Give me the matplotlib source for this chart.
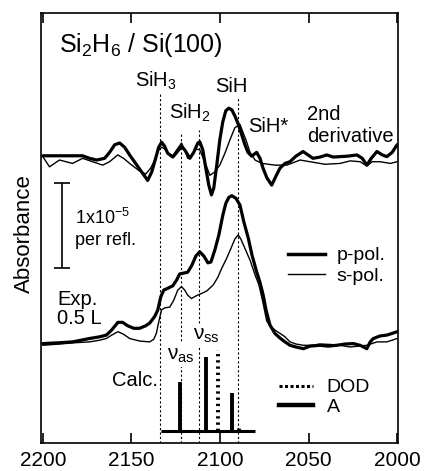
import numpy as np
import matplotlib
matplotlib.use("Agg")
import matplotlib.pyplot as plt
from matplotlib.lines import Line2D

plt.rcParams['font.family'] = ['Liberation Sans', 'DejaVu Sans']
plt.rcParams['mathtext.fontset'] = 'custom'
plt.rcParams['mathtext.rm'] = 'Liberation Sans'
plt.rcParams['mathtext.default'] = 'regular'

# 2nd derivative spectra (offset, units of 1e-5)
d2p_wn = [2200, 2190.6, 2177.5, 2173.6, 2169.6, 2165.1, 2162.3, 2159.4, 2156.6, 2153.8,
          2151.0, 2147.6, 2144.2, 2140.8, 2138.5, 2136.3, 2134.6, 2132.9, 2131.2, 2129.5,
          2126.6, 2124.4, 2121.7, 2119.9, 2117.0, 2114.8, 2112.5, 2111.4, 2109.7, 2108.0,
          2106.3, 2104.8, 2103.5, 2101.8, 2100.1, 2098.4, 2096.7, 2095.0, 2093.3, 2091.6,
          2089.9, 2087.6, 2085.9, 2084.2, 2082.1, 2079.3, 2077.4, 2075.7, 2073.5, 2070.8,
          2068.4, 2066.1, 2063.3, 2060.5, 2057.1, 2053.1, 2050.3, 2047.5, 2043.5, 2039.7,
          2036.1, 2032.2, 2027.7, 2022.7, 2019.7, 2017.1, 2014.6, 2011.4, 2008.4, 2005.8,
          2002.8, 2000]
d2p_y = [3.38, 3.38, 3.38, 3.35, 3.33, 3.35, 3.42, 3.51, 3.53, 3.48,
         3.39, 3.29, 3.19, 3.09, 3.19, 3.35, 3.48, 3.54, 3.49, 3.41,
         3.365, 3.42, 3.49, 3.45, 3.35, 3.42, 3.53, 3.545, 3.45, 3.235,
         3.035, 2.92, 3.0, 3.27, 3.565, 3.78, 3.91, 3.94, 3.92, 3.85,
         3.765, 3.62, 3.51, 3.42, 3.376, 3.42, 3.35, 3.235, 3.12, 3.035,
         3.14, 3.235, 3.29, 3.31, 3.376, 3.43, 3.39, 3.35, 3.365, 3.39,
         3.365, 3.37, 3.376, 3.39, 3.35, 3.27, 3.35, 3.43, 3.39, 3.37,
         3.42, 3.51]
d2s_wn = [2200, 2196.2, 2190.6, 2183.2, 2177.5, 2171.9, 2166.2, 2162.3, 2157.7, 2154.4,
          2149.8, 2145.3, 2141.9, 2139.1, 2136.3, 2134.6, 2132.9, 2131.2, 2129.5, 2126.6,
          2124.4, 2121.7, 2119.9, 2118.2, 2115.9, 2113.6, 2111.4, 2108.6, 2105.7, 2102.9,
          2100.1, 2097.2, 2094.4, 2091.6, 2088.7, 2087.1, 2085.3, 2083.0, 2080.2, 2076.3,
          2068.9, 2062.2, 2054.8, 2049.2, 2040.7, 2032.2, 2026.5, 2020.9, 2017.1, 2014.1,
          2009.6, 2003.9, 2000]
d2s_y = [3.37, 3.25, 3.33, 3.29, 3.35, 3.31, 3.27, 3.31, 3.39, 3.35,
         3.27, 3.20, 3.165, 3.235, 3.35, 3.45, 3.48, 3.46, 3.41, 3.38,
         3.45, 3.53, 3.45, 3.35, 3.39, 3.46, 3.45, 3.31, 3.15, 3.19,
         3.27, 3.41, 3.565, 3.71, 3.75, 3.66, 3.565, 3.42, 3.33, 3.29,
         3.27, 3.27, 3.33, 3.31, 3.28, 3.29, 3.32, 3.31, 3.26, 3.31,
         3.31, 3.29, 3.31]

# absorbance spectra, 0.5 L exposure
absp_wn = [2200, 2190.6, 2183.2, 2173.6, 2167.9, 2164.1, 2161.1, 2157.6, 2154.9, 2152.1,
           2148.7, 2145.3, 2141.9, 2139.7, 2136.8, 2135.1, 2133.4, 2131.7, 2129.5, 2126.6,
           2124.4, 2122.7, 2120.4, 2118.2, 2115.9, 2113.6, 2111.4, 2109.1, 2106.8, 2105.1,
           2102.9, 2100.6, 2098.4, 2096.7, 2095.0, 2093.3, 2091.0, 2088.7, 2086.5, 2084.0,
           2081.9, 2079.3, 2077.4, 2075.6, 2074.0, 2071.8, 2069.0, 2066.1, 2063.3, 2060.5,
           2057.1, 2052.9, 2049.2, 2043.5, 2039.0, 2034.1, 2029.4, 2024.7, 2020.9, 2017.1,
           2015.2, 2013.4, 2009.6, 2005.8, 2002.8, 2000]
absp_y = [1.17, 1.18, 1.19, 1.23, 1.25, 1.27, 1.33, 1.42, 1.42, 1.38,
          1.35, 1.35, 1.38, 1.41, 1.49, 1.565, 1.72, 1.80, 1.82, 1.85,
          1.92, 1.99, 2.00, 2.01, 2.09, 2.20, 2.25, 2.20, 2.12, 2.13,
          2.27, 2.45, 2.68, 2.82, 2.89, 2.91, 2.88, 2.80, 2.60, 2.41,
          2.21, 2.015, 1.89, 1.74, 1.565, 1.39, 1.29, 1.235, 1.19, 1.15,
          1.13, 1.11, 1.14, 1.15, 1.14, 1.15, 1.165, 1.17, 1.15, 1.11,
          1.19, 1.23, 1.26, 1.27, 1.29, 1.31]
abss_wn = [2200, 2190.6, 2182.1, 2173.6, 2167.9, 2164.1, 2161.1, 2157.6, 2154.4, 2151.0,
           2145.3, 2139.7, 2137.4, 2135.9, 2134.6, 2133.0, 2131.2, 2128.3, 2126.1, 2123.8,
           2121.7, 2119.9, 2118.2, 2116.1, 2113.6, 2110.4, 2107.4, 2103.8, 2101.2, 2098.9,
           2096.3, 2093.8, 2091.6, 2089.7, 2088.2, 2085.9, 2083.0, 2080.2, 2078.0, 2075.7,
           2073.6, 2071.8, 2069.0, 2066.1, 2063.3, 2060.5, 2057.1, 2052.9, 2048.0, 2043.5,
           2037.8, 2032.2, 2026.5, 2022.0, 2017.1, 2011.4, 2005.8, 2002.8, 2000]
abss_y = [1.15, 1.165, 1.18, 1.19, 1.21, 1.23, 1.27, 1.31, 1.28, 1.23,
          1.20, 1.19, 1.22, 1.29, 1.42, 1.565, 1.59, 1.60, 1.68, 1.80,
          1.84, 1.80, 1.74, 1.70, 1.73, 1.76, 1.79, 1.86, 1.95, 2.06,
          2.17, 2.29, 2.40, 2.45, 2.40, 2.29, 2.15, 1.98, 1.86, 1.65,
          1.435, 1.38, 1.33, 1.29, 1.25, 1.19, 1.165, 1.15, 1.15, 1.165,
          1.16, 1.15, 1.13, 1.14, 1.15, 1.19, 1.19, 1.21, 1.23]

# calculated modes
calc_base = 0.14
calc_range = [2133, 2080]
calc_a_wn = [2122.7, 2108.1, 2093.4]
calc_a_int = [0.58, 0.87, 0.445]
calc_dod_wn = [2101.0, 2089.3]
calc_dod_int = [0.95, 0.04]

# assignment lines
mode_wn = [2134, 2122, 2112, 2090]
mode_top = [4.12, 3.66, 3.68, 4.07]

fig = plt.figure(figsize=(4.25, 4.71), dpi=100)
ax = fig.add_axes([0.0965, 0.0594, 0.84, 0.913])

ax.vlines(mode_wn, 0, mode_top, colors='k', linewidth=0.8,
          linestyles=[(0, (2, 2))], zorder=1)

line_kw = dict(color='k', zorder=3, solid_joinstyle='round', solid_capstyle='round')
ax.plot(d2p_wn, d2p_y, lw=2.3, **line_kw)
ax.plot(d2s_wn, d2s_y, lw=1.0, **line_kw)
ax.plot(absp_wn, absp_y, lw=2.3, **line_kw)
ax.plot(abss_wn, abss_y, lw=1.0, **line_kw)

ax.hlines(calc_base, calc_range[0], calc_range[1], colors='k', lw=2.2, zorder=3)
ax.vlines(calc_a_wn, calc_base, np.array(calc_a_int) + calc_base, colors='k', lw=2.8, zorder=3)
ax.vlines(calc_dod_wn, calc_base, np.array(calc_dod_int) + calc_base, colors='k', lw=2.8,
          linestyles=[(0, (0.6, 1.0))], zorder=3)

# scale bar
ax.errorbar([2189], [2.56], yerr=[0.5], color='k', lw=1.2, capsize=6, capthick=1.2)
ax.text(2182, 2.65, r'1x10$^{-5}$', fontsize=13, va='center', ha='left')
ax.text(2182, 2.38, 'per refl.', fontsize=13, va='center', ha='left')

ax.text(2190.6, 4.68, r'Si$_2$H$_6$ / Si(100)', fontsize=18, va='center', ha='left')
ax.text(2136.3, 4.26, r'SiH$_3$', fontsize=14.5, va='center', ha='center')
ax.text(2117, 3.89, r'SiH$_2$', fontsize=14.5, va='center', ha='center')
ax.text(2093.6, 4.20, 'SiH', fontsize=14.5, va='center', ha='center')
ax.text(2084.2, 3.72, 'SiH*', fontsize=14.5, va='center', ha='left')
ax.text(2051, 3.86, '2nd', fontsize=14.5, va='center', ha='left')
ax.text(2051, 3.61, 'derivative', fontsize=14.5, va='center', ha='left')
ax.text(2191.7, 1.69, 'Exp.', fontsize=14.5, va='center', ha='left')
ax.text(2191.7, 1.46, '0.5 L', fontsize=14.5, va='center', ha='left')
ax.text(2161, 0.74, 'Calc.', fontsize=14.5, va='center', ha='left')
wb = dict(facecolor='white', edgecolor='none', pad=1.5)
ax.text(2130, 1.035, r'ν$_{as}$', fontsize=15, va='center', ha='left', bbox=wb, zorder=2)
ax.text(2115.3, 1.27, r'ν$_{ss}$', fontsize=15, va='center', ha='left', bbox=wb, zorder=2)

h1 = [Line2D([], [], color='k', lw=2.5), Line2D([], [], color='k', lw=1.0)]
leg1 = ax.legend(h1, ['p-pol.', 's-pol.'], loc='center left', bbox_to_anchor=(0.692, 0.412),
                 frameon=False, fontsize=14, handlelength=1.9, handletextpad=0.6,
                 labelspacing=0.15, borderpad=0, borderaxespad=0)
ax.add_artist(leg1)
h2 = [Line2D([], [], color='k', lw=2.2, linestyle=(0, (1, 0.8))),
      Line2D([], [], color='k', lw=3.2)]
ax.legend(h2, ['DOD', 'A'], loc='center left', bbox_to_anchor=(0.667, 0.106),
          frameon=False, fontsize=14, handlelength=1.75, handletextpad=0.7,
          labelspacing=0.1, borderpad=0, borderaxespad=0)

ax.set_xlim(2201, 1999.5)
ax.set_ylim(0, 5.06)
ax.set_xticks([2200, 2150, 2100, 2050, 2000])
ax.set_yticks([])
ax.tick_params(axis='x', direction='in', top=True, length=7, width=1.2, labelsize=15, pad=6)
for s in ax.spines.values():
    s.set_linewidth(1.2)
ax.set_ylabel('Absorbance', fontsize=16)
ax.yaxis.set_label_coords(-0.017, 0.488)

fig.savefig('out.png', dpi=100)
